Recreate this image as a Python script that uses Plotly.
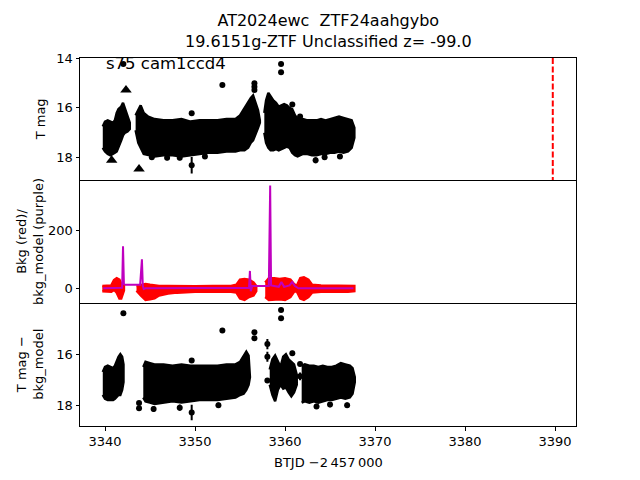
import plotly.graph_objects as go
from plotly.subplots import make_subplots

# ---- top panel: T mag (dense light-curve envelopes)
top_seg_x = [
    [3339.75, 3340.0, 3340.3, 3340.6, 3340.9, 3341.1, 3341.3, 3341.5, 3341.8, 3342.0, 3342.2, 3342.5, 3342.75],
    [3343.4, 3343.7, 3343.96, 3344.3, 3344.8, 3345.5, 3346.5, 3347.5, 3348.5, 3349.5, 3350.5, 3351.5,
     3352.5, 3353.5, 3354.5, 3355.0, 3355.5, 3355.9, 3356.2, 3356.45, 3356.7, 3357.0, 3357.2],
    [3357.7, 3357.9, 3358.15, 3358.4, 3358.7, 3359.0, 3359.3, 3359.6, 3359.9, 3360.2, 3360.5, 3360.8,
     3361.1, 3361.4, 3361.7, 3362.0, 3362.5, 3363.0, 3363.5, 3364.0, 3364.5, 3365.0, 3365.5, 3366.0,
     3366.5, 3367.0, 3367.4, 3367.7],
]
top_seg_hi = [
    [16.75, 16.55, 16.5, 16.55, 16.6, 16.5, 16.2, 16.05, 15.95, 15.8, 16.0, 16.3, 16.6],
    [16.3, 16.1, 15.9, 16.2, 16.35, 16.45, 16.5, 16.5, 16.45, 16.55, 16.5, 16.5,
     16.5, 16.45, 16.45, 16.3, 16.0, 15.8, 15.6, 15.5, 15.75, 16.1, 16.5],
    [16.2, 15.7, 15.4, 15.55, 15.7, 15.8, 15.95, 15.9, 15.85, 15.9, 16.0, 16.05,
     16.3, 16.45, 16.5, 16.45, 16.5, 16.5, 16.5, 16.45, 16.5, 16.45, 16.4, 16.35,
     16.4, 16.45, 16.5, 16.8],
]
top_seg_lo = [
    [17.6, 17.75, 17.85, 17.9, 17.85, 17.8, 17.75, 17.6, 17.3, 17.1, 17.0, 16.95, 16.85],
    [16.9, 17.4, 17.6, 17.85, 17.9, 17.95, 17.9, 17.9, 17.95, 17.9, 17.85, 17.8,
     17.8, 17.75, 17.75, 17.7, 17.7, 17.6, 17.4, 17.3, 17.1, 16.8, 16.6],
    [17.0, 17.4, 17.6, 17.7, 17.7, 17.65, 17.7, 17.65, 17.6, 17.55, 17.6, 17.8,
     17.9, 17.95, 17.9, 17.85, 17.85, 17.9, 17.9, 17.85, 17.85, 17.8, 17.8, 17.75,
     17.8, 17.75, 17.6, 17.2],
]
top_pt_x = [3342.04, 3349.63, 3349.63, 3353.04, 3356.6, 3356.6, 3356.6, 3359.56, 3359.56, 3360.81, 3361.67,
            3345.2, 3346.9, 3348.3, 3351.1, 3363.4, 3364.4, 3366.1]
top_pt_y = [14.24, 16.22, 18.3, 15.08, 15.01, 15.15, 15.28, 14.24, 14.57, 15.87, 16.35,
            17.98, 18.0, 18.0, 17.95, 18.1, 17.98, 17.95]
top_pt_err = [0.02, 0.03, 0.33, 0.03, 0.02, 0.02, 0.02, 0.02, 0.02, 0.05, 0.05,
              0.1, 0.1, 0.1, 0.1, 0.12, 0.1, 0.1]
tri_x = [3340.74, 3342.33, 3343.78]
tri_y = [18.1, 15.28, 18.45]

# ---- middle panel: background (red) and background model (purple)
bkg_seg_x = [
    [3339.7, 3340.2, 3340.7, 3341.0, 3341.3, 3341.6, 3341.8, 3342.1],
    [3343.5, 3344.0, 3344.5, 3345.0, 3345.5, 3346.0, 3347.0, 3348.0, 3350.0, 3352.0, 3354.0, 3354.6,
     3355.0, 3355.5, 3356.0, 3356.5, 3356.8],
    [3357.8, 3358.2, 3358.8, 3359.4, 3360.0, 3360.6, 3361.0, 3361.3, 3361.7, 3362.1, 3362.6, 3363.0,
     3364.0, 3365.0, 3366.0, 3367.0, 3367.7],
]
bkg_seg_hi = [
    [8, 8, 10, 28, 35, 30, 15, 8],
    [8, 12, 15, 12, 10, 8, 8, 7, 7, 8, 8, 12, 30, 32, 30, 20, 8],
    [20, 35, 35, 32, 35, 30, 15, 8, 35, 38, 30, 12, 10, 10, 10, 10, 8],
]
bkg_seg_lo = [
    [-10, -12, -12, -5, -15, -35, -35, -8],
    [-8, -25, -40, -38, -35, -25, -18, -15, -12, -12, -12, -15, -35, -40, -30, -25, -10],
    [-30, -40, -40, -38, -40, -30, -12, -10, -35, -40, -30, -15, -12, -12, -12, -12, -10],
]
model_x = [3339.8, 3341.9, 3342.0, 3342.1, 3342.25, 3343.9, 3344.1, 3344.2, 3344.3, 3344.5,
           3356.0, 3356.1, 3356.2, 3356.35, 3358.2, 3358.3, 3358.35, 3358.45, 3359.3, 3359.6,
           3359.9, 3360.5, 3360.8, 3361.1, 3361.5, 3367.6]
model_y = [0, 2, 145, 15, 12, 12, 100, 8, -2, 0,
           2, 60, -10, 8, 8, 355, 355, 10, 5, 22,
           5, 10, 22, 8, 0, 0]

# ---- bottom panel: T mag - bkg_model
bot_seg_x = [
    [3339.75, 3340.0, 3340.3, 3340.6, 3340.9, 3341.1, 3341.3, 3341.5, 3341.7, 3341.9, 3342.05],
    [3344.25, 3344.5, 3345.0, 3345.5, 3346.5, 3347.5, 3348.5, 3349.5, 3350.5, 3351.5, 3352.5,
     3353.5, 3354.5, 3355.0, 3355.4, 3355.7, 3355.95, 3356.1],
    [3358.3, 3358.6, 3358.9, 3359.2, 3359.5, 3359.8, 3360.1, 3360.4, 3360.7, 3361.0, 3361.3],
    [3361.85, 3362.2, 3362.7, 3363.2, 3363.7, 3364.2, 3364.7, 3365.2, 3365.7, 3366.2, 3366.7,
     3367.2, 3367.5, 3367.75],
]
bot_seg_hi = [
    [16.7, 16.5, 16.45, 16.5, 16.55, 16.45, 16.25, 16.1, 16.0, 16.1, 16.4],
    [16.5, 16.3, 16.35, 16.4, 16.4, 16.45, 16.4, 16.45, 16.45, 16.45, 16.45,
     16.4, 16.4, 16.3, 16.1, 15.9, 16.05, 16.6],
    [16.6, 16.2, 16.05, 16.3, 16.5, 16.1, 16.0, 16.2, 16.3, 16.4, 16.8],
    [16.45, 16.4, 16.45, 16.45, 16.5, 16.45, 16.5, 16.5, 16.45, 16.35, 16.4, 16.45, 16.55, 16.9],
]
bot_seg_lo = [
    [17.6, 17.75, 17.8, 17.8, 17.8, 17.75, 17.7, 17.6, 17.6, 17.4, 17.1],
    [17.7, 17.85, 17.9, 17.95, 17.9, 17.85, 17.9, 17.85, 17.8, 17.8, 17.8,
     17.75, 17.7, 17.6, 17.55, 17.4, 17.2, 16.9],
    [17.2, 17.6, 17.85, 17.4, 17.2, 17.35, 17.3, 17.5, 17.65, 17.5, 17.2],
    [17.9, 17.85, 17.9, 17.85, 17.9, 17.85, 17.8, 17.8, 17.75, 17.7, 17.75, 17.7, 17.55, 17.1],
]
bot_pt_x = [3342.04, 3343.78, 3343.78, 3349.63, 3349.63, 3353.04, 3356.6, 3356.6, 3359.56, 3359.56,
            3358.04, 3358.04, 3358.04, 3360.81, 3361.67, 3361.67,
            3345.4, 3348.3, 3352.6, 3363.5, 3365.0, 3366.9]
bot_pt_y = [14.39, 17.92, 18.12, 16.25, 18.29, 15.07, 15.14, 15.37, 14.26, 14.59,
            15.6, 16.1, 17.03, 15.96, 16.38, 16.87,
            18.15, 18.1, 18.0, 18.05, 17.98, 18.0]
bot_pt_err = [0.02, 0.03, 0.03, 0.03, 0.3, 0.03, 0.05, 0.05, 0.02, 0.02,
              0.2, 0.2, 0.05, 0.1, 0.05, 0.15,
              0.12, 0.12, 0.1, 0.1, 0.1, 0.1]

trigger_x = 3389.75
FONT = "DejaVu Sans"

fig = make_subplots(rows=3, cols=1, shared_xaxes=True, vertical_spacing=0)


def add_blob(xs, hi, lo, color, row):
    fig.add_trace(go.Scatter(x=xs + xs[::-1], y=hi + lo[::-1], fill="toself", fillcolor=color,
                             mode="lines", line=dict(color=color, width=2.5), hoverinfo="skip"),
                  row=row, col=1)


for xs, hi, lo in zip(top_seg_x, top_seg_hi, top_seg_lo):
    add_blob(xs, hi, lo, "black", 1)
fig.add_trace(go.Scatter(x=top_pt_x, y=top_pt_y, mode="markers",
                         marker=dict(color="black", size=6),
                         error_y=dict(array=top_pt_err, color="black", thickness=2, width=0)),
              row=1, col=1)
fig.add_trace(go.Scatter(x=tri_x, y=tri_y, mode="markers",
                         marker=dict(color="black", size=10, symbol="triangle-up")),
              row=1, col=1)
fig.add_trace(go.Scatter(x=[trigger_x, trigger_x], y=[14.0, 18.92], mode="lines",
                         line=dict(color="red", width=2, dash="6px,2.5px")),
              row=1, col=1)

for xs, hi, lo in zip(bkg_seg_x, bkg_seg_hi, bkg_seg_lo):
    add_blob(xs, hi, lo, "red", 2)
fig.add_trace(go.Scatter(x=model_x, y=model_y, mode="lines",
                         line=dict(color="#bf00bf", width=2)),
              row=2, col=1)

for xs, hi, lo in zip(bot_seg_x, bot_seg_hi, bot_seg_lo):
    add_blob(xs, hi, lo, "black", 3)
fig.add_trace(go.Scatter(x=bot_pt_x, y=bot_pt_y, mode="markers",
                         marker=dict(color="black", size=6),
                         error_y=dict(array=bot_pt_err, color="black", thickness=2, width=0)),
              row=3, col=1)

axis_style = dict(showline=True, mirror=True, linecolor="black", linewidth=1,
                  showgrid=False, zeroline=False, ticks="outside", ticklen=3.5,
                  tickwidth=0.8, tickcolor="black", tickfont=dict(size=13, color="black"))

fig.update_xaxes(axis_style)
fig.update_xaxes(range=[3337.22, 3392.33], tickvals=[3340, 3350, 3360, 3370, 3380, 3390])
# each separator between panels is drawn by a single axis line only
fig.update_xaxes(showticklabels=False, ticks="", side="top", mirror=False, row=1, col=1)
fig.update_xaxes(showticklabels=False, ticks="", row=2, col=1)
fig.update_xaxes(mirror=False, row=3, col=1)
fig.update_yaxes(axis_style)
fig.update_yaxes(range=[18.92, 14.0], tickvals=[14, 16, 18], row=1, col=1)
fig.update_yaxes(range=[-52, 372], tickvals=[0, 200], row=2, col=1)
fig.update_yaxes(range=[18.82, 14.0], tickvals=[16, 18], row=3, col=1)

annots = [
    dict(text="AT2024ewc \u00a0ZTF24aahgybo<br>19.6151g-ZTF Unclassified z= -99.0",
         x=0.5, y=1, xref="paper", yref="paper", yanchor="bottom", yshift=5,
         showarrow=False, font=dict(size=16)),
    dict(text="s75 cam1ccd4", x=3339.9, y=14.24, xref="x", yref="y", xanchor="left",
         yanchor="middle", showarrow=False, font=dict(size=16.5)),
    dict(text="BTJD \u22122\u2009457\u2009000", x=0.5, y=0, xref="paper", yref="paper",
         yanchor="top", yshift=-27, showarrow=False, font=dict(size=13)),
    dict(text="T mag", x=0, y=5 / 6, xref="paper", yref="paper", xanchor="center",
         yanchor="middle", xshift=-40, textangle=-90, showarrow=False, font=dict(size=13)),
    dict(text="Bkg (red)/<br>bkg_model (purple)", x=0, y=0.5, xref="paper", yref="paper",
         xanchor="center", yanchor="middle", xshift=-50, textangle=-90, showarrow=False,
         font=dict(size=13)),
    dict(text="T mag \u2212<br>bkg_model", x=0, y=1 / 6, xref="paper", yref="paper",
         xanchor="center", yanchor="middle", xshift=-50, textangle=-90, showarrow=False,
         font=dict(size=13)),
]

# the page body adds an 8px offset, so margins are shifted to land the axes where they belong
fig.update_layout(
    width=640, height=480,
    margin=dict(l=72, r=72, t=49.5, b=61.5),
    paper_bgcolor="white", plot_bgcolor="white",
    showlegend=False,
    font=dict(family=FONT, color="black"),
    annotations=annots,
)

fig.write_html("out.html")
